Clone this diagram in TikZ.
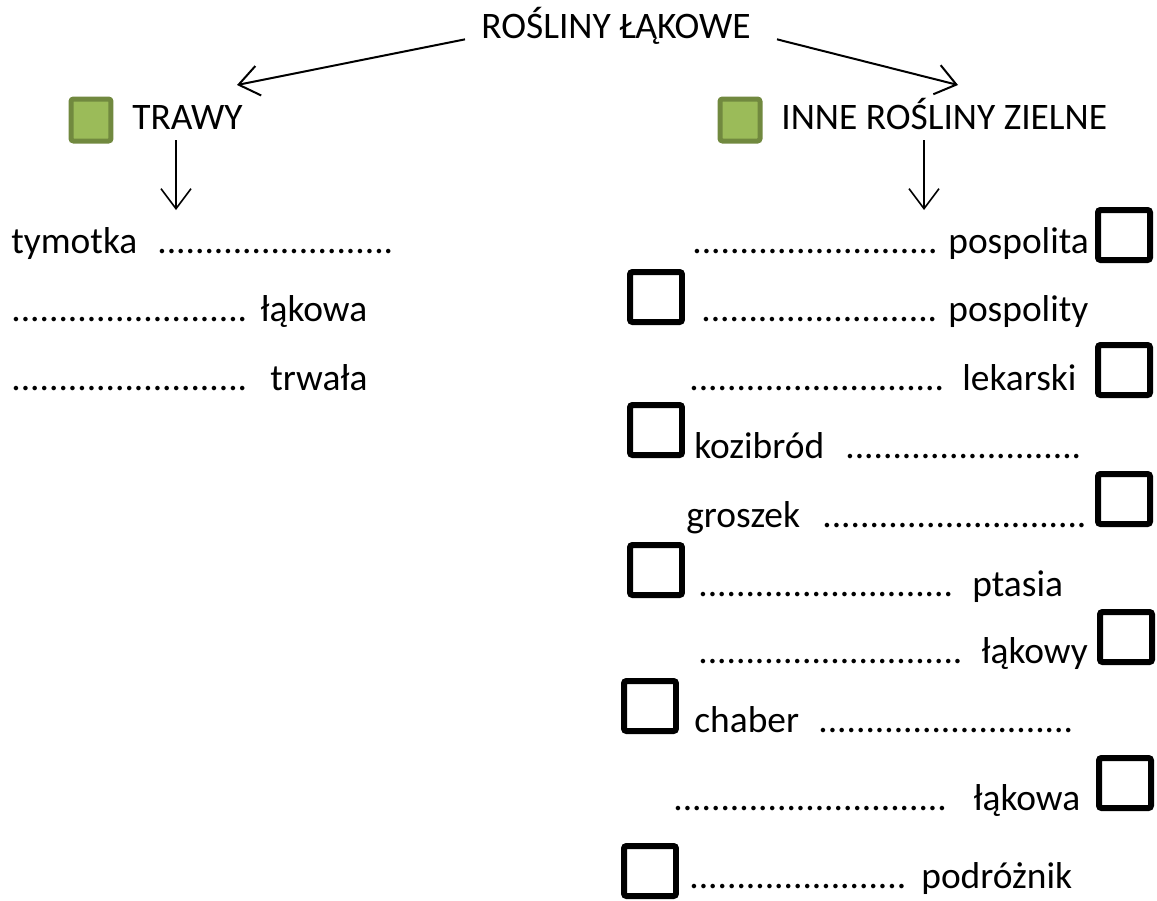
\documentclass[tikz,border=0pt]{standalone}
\usepackage{fontspec}
\setmainfont{Carlito}
\usetikzlibrary{arrows.meta}
\definecolor{zielen}{HTML}{9BBB59}
\definecolor{ciemnazielen}{HTML}{71893F}
\newcommand{\kropki}[1]{\foreach\k in {1,...,#1}{.}}
\tikzset{
  tekst/.style={anchor=base west, inner sep=0pt, font=\fontsize{21.3pt}{25pt}\selectfont},
  kratka/.style={draw, line width=0.12cm, rounded corners=0.05cm, inner sep=0pt,
    minimum width=1.04cm, minimum height=1.0cm},
  znacznik/.style={draw=ciemnazielen, fill=zielen, line width=0.1cm, rounded corners=0.05cm,
    inner sep=0pt, minimum width=0.8cm, minimum height=0.84cm},
  strzalka/.style={line width=0.04cm, -{Straight Barb[length=0.4cm, width=0.6cm]}}
}
\begin{document}
\begin{tikzpicture}[x=0.02cm, y=-0.02cm]
  \useasboundingbox (0,0) rectangle (1157,900);

  % Title and the two groups
  \node [tekst, anchor=base, inner xsep=0.32cm, inner ysep=0pt] (tytul) at (616,38) {ROŚLINY ŁĄKOWE};
  \node [znacznik] (zn1) at (91,120) {};
  \node [tekst] (trawy) at (132,129) {TRAWY};
  \node [znacznik] (zn2) at (740,120) {};
  \node [tekst] (inne) at (781,129) {INNE ROŚLINY ZIELNE};

  % Arrows from the title
  \coordinate (cel1) at (237,85);
  \coordinate (cel2) at (958,85);
  \draw [strzalka] ([yshift=0.1cm]tytul.south west) -- (cel1);
  \draw [strzalka] ([xshift=0.2cm, yshift=0.1cm]tytul.south east) -- (cel2);

  % Arrows down to the lists
  \coordinate (dol1) at (176,210);
  \coordinate (dol2) at (924,210);
  \draw [strzalka, line width=0.032cm] (176,140) -- (dol1);
  \draw [strzalka, line width=0.032cm] (924,140) -- (dol2);

  % Left list
  \node [tekst] (t1) at (11,253) {tymotka};
  \node [tekst] (d1) at (157,253) {\kropki{25}};
  \node [tekst] (d2) at (11,321) {\kropki{25}};
  \node [tekst] (t2) at (260,321) {łąkowa};
  \node [tekst] (d3) at (11,390) {\kropki{25}};
  \node [tekst] (t3) at (270,390) {trwała};

  % Right list
  \node [tekst] (r1d) at (692,253) {\kropki{26}};
  \node [tekst] (r1t) at (948,253) {pospolita};
  \node [kratka] (k1) at (1124,235) {};

  \node [kratka] (k2) at (656,297) {};
  \node [tekst] (r2d) at (701,321) {\kropki{25}};
  \node [tekst] (r2t) at (948,321) {pospolity};

  \node [tekst] (r3d) at (689,390) {\kropki{27}};
  \node [tekst] (r3t) at (962,390) {lekarski};
  \node [kratka] (k3) at (1124,370) {};

  \node [kratka] (k4) at (656,430) {};
  \node [tekst] (r4t) at (694,458) {kozibród};
  \node [tekst] (r4d) at (845,458) {\kropki{25}};

  \node [tekst] (r5t) at (686,527) {groszek};
  \node [tekst] (r5d) at (822,527) {\kropki{28}};
  \node [kratka] (k5) at (1124,499) {};

  \node [kratka] (k6) at (656,570) {};
  \node [tekst] (r6d) at (698,596) {\kropki{27}};
  \node [tekst] (r6t) at (972,596) {ptasia};

  \node [tekst] (r7d) at (698,663) {\kropki{28}};
  \node [tekst] (r7t) at (981,663) {łąkowy};
  \node [kratka] (k7) at (1126,637) {};

  \node [kratka] (k8) at (650,706) {};
  \node [tekst] (r8t) at (694,732) {chaber};
  \node [tekst] (r8d) at (818,732) {\kropki{27}};

  \node [tekst] (r9d) at (673,810) {\kropki{29}};
  \node [tekst] (r9t) at (973,810) {łąkowa};
  \node [kratka] (k9) at (1125,783) {};

  \node [kratka] (k10) at (650,871) {};
  \node [tekst] (r10d) at (689,888) {\kropki{23}};
  \node [tekst] (r10t) at (921,888) {podróżnik};
\end{tikzpicture}
\end{document}
